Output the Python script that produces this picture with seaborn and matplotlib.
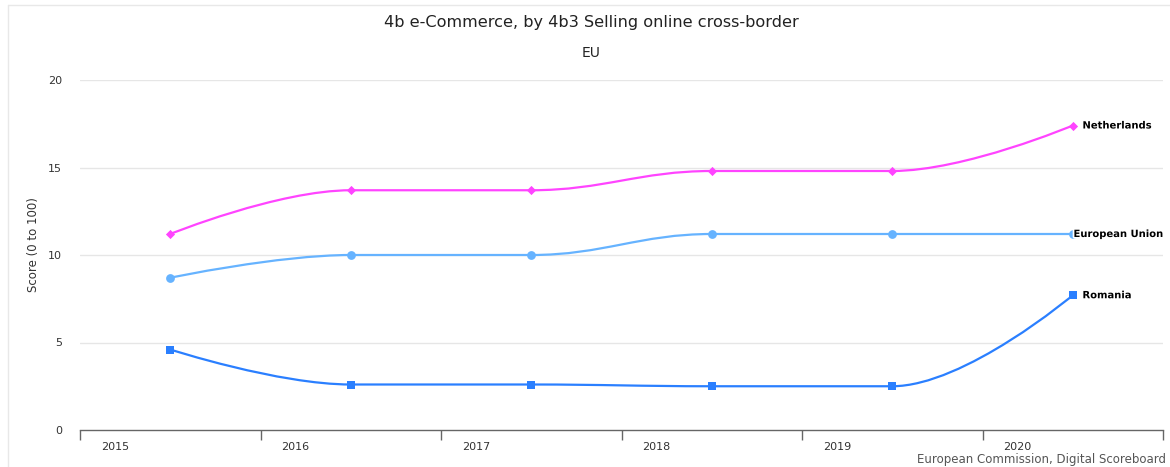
import numpy as np
import pandas as pd
import matplotlib
matplotlib.use("Agg")
import matplotlib.pyplot as plt
import seaborn as sns
from matplotlib.path import Path
from matplotlib.patches import PathPatch
from matplotlib.lines import Line2D
import matplotlib.patheffects as pe

# ---- data ----
years = ["2015", "2016", "2017", "2018", "2019", "2020"]
netherlands = [11.2, 13.7, 13.7, 14.8, 14.8, 17.4]
european_union = [8.7, 10.0, 10.0, 11.2, 11.2, 11.2]
romania = [4.6, 2.6, 2.6, 2.5, 2.5, 7.7]
series_names = ["Netherlands", "European Union", "Romania"]
y_ticks = [0, 5, 10, 15, 20]

colors = {"Netherlands": "#ff44ff", "European Union": "#66b3ff", "Romania": "#2a7fff"}
markers = {"Netherlands": "D", "European Union": "o", "Romania": "s"}
sizes = {"Netherlands": 22, "European Union": 40, "Romania": 36}

values = {"Netherlands": netherlands, "European Union": european_union, "Romania": romania}
xpos = np.arange(len(years))
df = pd.DataFrame({
    "x": np.tile(xpos, len(series_names)),
    "year": years * len(series_names),
    "value": netherlands + european_union + romania,
    "series": np.repeat(series_names, len(years)),
})

sns.set_style("white")
plt.rcParams["font.family"] = ["DejaVu Sans"]

W, H = 1170, 467
fig = plt.figure(figsize=(W / 100, H / 100), dpi=100)
ax = fig.add_axes([80 / W, 1 - 430 / H, (1163 - 80) / W, (430 - 80) / H])


def spline_path(xs, ys, smoothing=1.5):
    denom = smoothing + 1
    n = len(xs)
    lc = [None] * n
    rc = [None] * n
    for i in range(1, n - 1):
        px, py = xs[i], ys[i]
        lx, ly = xs[i - 1], ys[i - 1]
        nx, ny = xs[i + 1], ys[i + 1]
        lcx = (smoothing * px + lx) / denom
        lcy = (smoothing * py + ly) / denom
        rcx = (smoothing * px + nx) / denom
        rcy = (smoothing * py + ny) / denom
        if rcx != lcx:
            corr = ((rcy - lcy) * (rcx - px)) / (rcx - lcx) + py - rcy
            lcy += corr
            rcy += corr
        if lcy > max(ly, py):
            lcy = max(ly, py)
            rcy = 2 * py - lcy
        elif lcy < min(ly, py):
            lcy = min(ly, py)
            rcy = 2 * py - lcy
        if rcy > max(py, ny):
            rcy = max(py, ny)
            lcy = 2 * py - rcy
        elif rcy < min(py, ny):
            rcy = min(py, ny)
            lcy = 2 * py - rcy
        lc[i] = (lcx, lcy)
        rc[i] = (rcx, rcy)
    verts = [(xs[0], ys[0])]
    codes = [Path.MOVETO]
    for i in range(1, n):
        c1 = rc[i - 1] if rc[i - 1] is not None else (xs[i - 1], ys[i - 1])
        c2 = lc[i] if lc[i] is not None else (xs[i], ys[i])
        verts += [c1, c2, (xs[i], ys[i])]
        codes += [Path.CURVE4] * 3
    return Path(verts, codes)


for name in series_names:
    p = spline_path(list(xpos.astype(float)), values[name])
    ax.add_patch(PathPatch(p, facecolor="none", edgecolor=colors[name], lw=1.6,
                           transform=ax.transData, zorder=3, capstyle="round", joinstyle="round"))

for name in series_names:
    sub = df[df["series"] == name]
    sns.scatterplot(data=sub, x="x", y="value", ax=ax, color=colors[name],
                    marker=markers[name], s=sizes[name], linewidth=0, zorder=4, legend=False)

ax.set_xlim(-0.5, len(years) - 0.5)
ax.set_ylim(0, 20)

# grid
ax.set_yticks(y_ticks)
ax.set_yticklabels([str(t) for t in y_ticks], fontsize=8, color="#333333")
ax.tick_params(axis="y", length=0, pad=13)
for t in y_ticks[1:]:
    ax.axhline(t, color="#e6e6e6", lw=1, zorder=1)

# x axis: ticks between categories, labels shifted as in reference
ax.set_xticks(xpos - 0.5 + 35 / 180)
ax.set_xticklabels(years, fontsize=8, color="#333333")
ax.tick_params(axis="x", which="major", length=0, pad=9, bottom=True)
ax.set_xticks(np.arange(-0.5, len(years), 1.0), minor=True)
ax.tick_params(axis="x", which="minor", length=7, width=1, color="#666666",
               direction="out", bottom=True)

for s in ["top", "right", "left"]:
    ax.spines[s].set_visible(False)
ax.spines["bottom"].set_color("#666666")
ax.spines["bottom"].set_linewidth(1)
ax.set_xlabel("")
ax.set_ylabel("")

# series end labels
halo = [pe.withStroke(linewidth=2.5, foreground="white")]
last = len(years) - 1
ax.annotate("Netherlands", (last, netherlands[-1]), xytext=(7, 0), textcoords="offset points",
            ha="left", va="center", fontsize=7.2, fontweight="bold", color="black",
            path_effects=halo, zorder=5)
ax.annotate("European Union", (len(years) - 0.5, european_union[-1]), xytext=(0, 0),
            textcoords="offset points", ha="right", va="center", fontsize=7.2,
            fontweight="bold", color="black", path_effects=halo, zorder=5, annotation_clip=False)
ax.annotate("Romania", (last, romania[-1]), xytext=(7, 0), textcoords="offset points",
            ha="left", va="center", fontsize=7.2, fontweight="bold", color="black",
            path_effects=halo, zorder=5)

# titles
fig.text(591 / W, 1 - 22 / H, "4b e-Commerce, by 4b3 Selling online cross-border",
         ha="center", va="center", fontsize=11.6, color="#222222")
fig.text(591 / W, 1 - 53 / H, "EU", ha="center", va="center", fontsize=10, color="#222222")
fig.text(33 / W, 1 - 245 / H, "Score (0 to 100)", rotation=90, ha="center", va="center",
         fontsize=8.5, color="#333333")
fig.text(1166 / W, 1 - 460 / H, "European Commission, Digital Scoreboard", ha="right",
         va="center", fontsize=8.5, color="#555555")

# faint chart border
fig.add_artist(Line2D([8 / W, 1], [1 - 5 / H, 1 - 5 / H], transform=fig.transFigure,
                      color="#e8e8e8", lw=1))
fig.add_artist(Line2D([8 / W, 8 / W], [0, 1 - 5 / H], transform=fig.transFigure,
                      color="#e8e8e8", lw=1))

fig.savefig("out.png", dpi=100)
